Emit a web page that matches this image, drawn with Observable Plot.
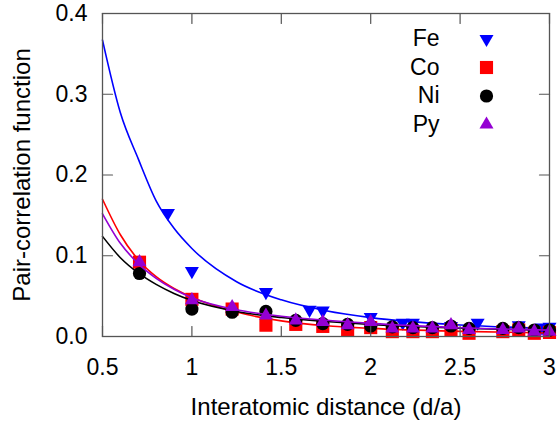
<!DOCTYPE html>
<html>
<head>
<meta charset="utf-8">
<script src="https://cdn.jsdelivr.net/npm/d3@7"></script>
<script src="https://cdn.jsdelivr.net/npm/@observablehq/plot@0.6"></script>
<style>
  html, body { margin: 0; padding: 0; background: #fff; }
  #chart { width: 559px; height: 424px; }
</style>
</head>
<body>
<div id="chart"></div>
<script>
// ---- Data ----
const seriesNames = ["Fe", "Co", "Ni", "Py"];
const seriesColors = ["#0000ff", "#ff0000", "#000000", "#9400d3"];
const seriesSymbols = ["triangle", "square", "circle", "triangle"];

// neighbour-shell distances (d/a)
const feX = [0.866, 1.0, 1.414, 1.658, 1.732, 2.0, 2.179, 2.236, 2.449, 2.598, 2.828, 2.958, 3.0];
const fccX = [0.707, 1.0, 1.225, 1.414, 1.581, 1.732, 1.871, 2.0, 2.121, 2.236, 2.345, 2.449, 2.55, 2.739, 2.828, 2.915, 3.0];

const feY = [0.153, 0.081, 0.055, 0.033, 0.032, 0.024, 0.017, 0.017, 0.013, 0.017, 0.014, 0.011, 0.012];
const coY = [0.092, 0.046, 0.034, 0.014, 0.015, 0.0125, 0.0075, 0.011, 0.006, 0.006, 0.006, 0.008, 0.004, 0.006, 0.008, 0.004, 0.005];
const niY = [0.078, 0.034, 0.030, 0.031, 0.020, 0.016, 0.015, 0.013, 0.012, 0.011, 0.011, 0.013, 0.010, 0.010, 0.011, 0.008, 0.008];
const pyY = [0.092, 0.045, 0.0365, 0.026, 0.020, 0.018, 0.014, 0.018, 0.010, 0.010, 0.010, 0.014, 0.008, 0.008, 0.010, 0.006, 0.006];

// fitted curves
const curveX = [0.5, 0.6, 0.7, 0.8, 0.9, 1.0, 1.25, 1.5, 1.75, 2.0, 2.5, 3.0];
const feFit = [0.367, 0.277, 0.220, 0.168, 0.134, 0.109, 0.0678, 0.0454, 0.032, 0.0234, 0.0142, 0.010];
const coFit = [0.170, 0.126, 0.0951, 0.0741, 0.0595, 0.0487, 0.0303, 0.0193, 0.0133, 0.0101, 0.0064, 0.0043];
const niFit = [0.124, 0.0976, 0.0787, 0.0645, 0.0533, 0.0445, 0.031, 0.0235, 0.0186, 0.0148, 0.0102, 0.0077];
const pyFit = [0.152, 0.1154, 0.0903, 0.0721, 0.0585, 0.0481, 0.0331, 0.0251, 0.0201, 0.0162, 0.0109, 0.0079];

const xTicks = [0.5, 1, 1.5, 2, 2.5, 3];
const yTicks = [0, 0.1, 0.2, 0.3, 0.4];

// ---- Build tables ----
const pointX = [feX, fccX, fccX, fccX];
const pointY = [feY, coY, niY, pyY];
const fitY = [feFit, coFit, niFit, pyFit];
const points = seriesNames.map((s, i) => pointX[i].map((x, j) => ({x, y: pointY[i][j]})));
const fits = seriesNames.map((s, i) => curveX.map((x, j) => ({x, y: fitY[i][j]})));

const symbolR = {triangle: 5.2, square: 7.4, circle: 6.6};
const symbolRotate = [180, 0, 0, 0];

const frameColor = "#555555";
const tickShape = {draw(context, l) { context.moveTo(0, 0); context.lineTo(0, -l); }};
const tickLen = 10;

const marks = [];
seriesNames.forEach((s, i) => {
  marks.push(Plot.dot(points[i], {
    x: "x", y: "y", symbol: () => seriesSymbols[i], fill: seriesColors[i], stroke: "none",
    r: symbolR[seriesSymbols[i]], rotate: symbolRotate[i]
  }));
  marks.push(Plot.line(fits[i], {x: "x", y: "y", stroke: seriesColors[i], strokeWidth: 1.6, curve: "monotone-x"}));
});

// legend rows (inside frame, top-right)
const legendDy = [25.5, 54, 82.5, 111];
seriesNames.forEach((s, i) => {
  marks.push(Plot.text([s], {frameAnchor: "top-right", dx: -110, dy: legendDy[i], text: d => d,
    textAnchor: "end", lineAnchor: "middle", fontSize: 23, fill: "#000"}));
  marks.push(Plot.dot([s], {frameAnchor: "top-right", dx: -63, dy: legendDy[i], symbol: () => seriesSymbols[i],
    fill: seriesColors[i], stroke: "none", r: symbolR[seriesSymbols[i]], rotate: symbolRotate[i]}));
});

// inward ticks on all four sides
marks.push(
  Plot.vector(xTicks, {x: d => d, frameAnchor: "bottom", anchor: "start", rotate: 0, length: tickLen, shape: tickShape, stroke: frameColor, strokeWidth: 1.2}),
  Plot.vector(xTicks, {x: d => d, frameAnchor: "top", anchor: "start", rotate: 180, length: tickLen, shape: tickShape, stroke: frameColor, strokeWidth: 1.2}),
  Plot.vector(yTicks, {y: d => d, frameAnchor: "left", anchor: "start", rotate: 90, length: tickLen, shape: tickShape, stroke: frameColor, strokeWidth: 1.2}),
  Plot.vector(yTicks, {y: d => d, frameAnchor: "right", anchor: "start", rotate: -90, length: tickLen, shape: tickShape, stroke: frameColor, strokeWidth: 1.2}),
  Plot.axisX({ticks: xTicks, tickSize: 0, tickPadding: 22, tickFormat: d => String(d), label: null, fontSize: 23}),
  Plot.axisY({ticks: yTicks, tickSize: 0, tickPadding: 15, tickFormat: d3.format(".1f"), label: null, fontSize: 23}),
  Plot.text(["Interatomic distance (d/a)"], {frameAnchor: "bottom", dy: 71, text: d => d, textAnchor: "middle", lineAnchor: "middle", fontSize: 24, fill: "#000"}),
  Plot.text(["Pair-correlation function"], {frameAnchor: "left", dx: -80, rotate: -90, text: d => d, textAnchor: "middle", lineAnchor: "middle", fontSize: 24, fill: "#000"}),
  Plot.frame({stroke: frameColor, strokeWidth: 1.3})
);

const chart = Plot.plot({
  width: 559,
  height: 424,
  marginLeft: 102,
  marginRight: 10,
  marginTop: 13,
  marginBottom: 88,
  style: {fontFamily: "'Liberation Sans', Arial, Helvetica, sans-serif", fontSize: "23px", color: "#000", background: "#fff"},
  x: {domain: [0.5, 3]},
  y: {domain: [0, 0.4]},
  marks
});
document.getElementById("chart").appendChild(chart);
</script>
</body>
</html>
